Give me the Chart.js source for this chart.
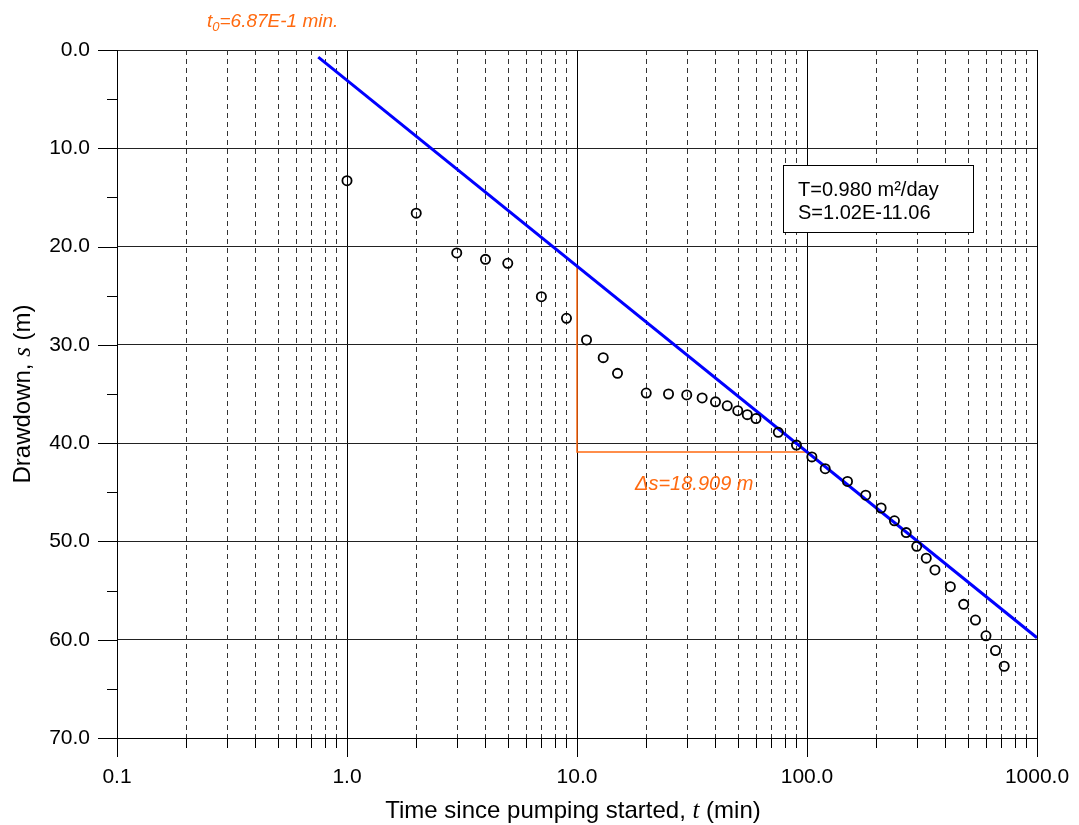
<!DOCTYPE html>
<html>
<head>
<meta charset="utf-8">
<title>Drawdown vs time</title>
<script src="https://cdn.jsdelivr.net/npm/chart.js@4.4.0/dist/chart.umd.min.js"></script>
<style>
  html, body { margin: 0; padding: 0; background: #fff; }
  #wrap { width: 1079px; height: 825px; }
</style>
</head>
<body>
<div id="wrap"><canvas id="chart" width="1079" height="825"></canvas></div>
<script>
// observed drawdown
const timeMin = [1, 2, 3, 4, 5, 7, 9, 11, 13, 15, 20, 25, 30, 35, 40, 45, 50, 55, 60, 75, 90,
  105, 120, 150, 180, 210, 240, 270, 300, 330, 360, 420, 480, 540, 600, 660, 720];
const drawdown = [13.3, 16.6, 20.65, 21.3, 21.7, 25.1, 27.3, 29.5, 31.3, 32.9, 34.9, 35.0, 35.1, 35.4, 35.8, 36.2, 36.7, 37.1, 37.5, 38.9, 40.2,
  41.4, 42.6, 43.9, 45.3, 46.6, 47.9, 49.1, 50.5, 51.7, 52.9, 54.6, 56.4, 58.0, 59.6, 61.1, 62.7];

// straight line fit (Cooper-Jacob)
const fitT = [0.75, 1000];
const fitS = [0.72, 59.8];

// delta s construction
const deltaT = [10, 10, 100];
const deltaS = [22.0, 40.9, 40.9];

// axis ticks
const xDecades = [0.1, 1, 10, 100, 1000];
const xMantissas = [1, 2, 3, 4, 5, 6, 7, 8, 9];
const yMin = 0, yMax = 70, yStep = 5;

const t0Label = '=6.87E-1 min.';
const deltaLabel = '\u0394s=18.909 m';
const infoLines = ['T=0.980 m\u00B2/day', 'S=1.02E-11.06'];

const ORANGE = '#ff6a10';
const SANS = '"Liberation Sans", Arial, sans-serif';
const SERIF = '"Liberation Serif", "Times New Roman", serif';

const isDecade = v => Math.abs(Math.log10(v) - Math.round(Math.log10(v))) < 1e-9;

const xTickValues = [];
xDecades.slice(0, -1).forEach(d => xMantissas.forEach(m => xTickValues.push(+(d * m).toPrecision(3))));
xTickValues.push(xDecades[xDecades.length - 1]);

function mixedText(ctx, parts, x, y, align) {
  let total = 0;
  parts.forEach(p => { ctx.font = p.font; p.w = ctx.measureText(p.text).width; total += p.w; });
  let cx = align === 'center' ? x - total / 2 : x;
  ctx.textAlign = 'left';
  parts.forEach(p => {
    ctx.font = p.font;
    ctx.fillText(p.text, cx, y + (p.dy || 0));
    cx += p.w;
  });
}

const extras = {
  id: 'extras',
  beforeDatasetsDraw(chart) {
    const { ctx, chartArea: a, scales: { x } } = chart;
    ctx.save();
    ctx.strokeStyle = '#333';
    ctx.lineWidth = 1;
    ctx.setLineDash([5, 4]);
    xTickValues.forEach(v => {
      if (isDecade(v)) return;
      const px = Math.round(x.getPixelForValue(v)) + 0.5;
      ctx.beginPath();
      ctx.moveTo(px, a.top);
      ctx.lineTo(px, a.bottom);
      ctx.stroke();
    });
    ctx.restore();
  },
  afterDraw(chart) {
    const { ctx, chartArea: a, scales: { x, y } } = chart;
    ctx.save();
    // tick marks
    ctx.strokeStyle = '#000';
    ctx.lineWidth = 1;
    xTickValues.forEach(v => {
      const px = Math.round(x.getPixelForValue(v)) + 0.5;
      const len = isDecade(v) ? 19 : 10;
      ctx.beginPath();
      ctx.moveTo(px, a.bottom);
      ctx.lineTo(px, a.bottom + len);
      ctx.stroke();
    });
    for (let v = yMin; v <= yMax; v += yStep) {
      const py = Math.round(y.getPixelForValue(v)) + 0.5;
      const len = v % 10 === 0 ? 19 : 10;
      ctx.beginPath();
      ctx.moveTo(a.left - len, py);
      ctx.lineTo(a.left, py);
      ctx.stroke();
    }

    // axis titles
    ctx.fillStyle = '#000';
    ctx.textBaseline = 'alphabetic';
    mixedText(ctx, [
      { text: 'Time since pumping started, ', font: '24px ' + SANS },
      { text: 't', font: 'italic 25px ' + SERIF },
      { text: ' (min)', font: '24px ' + SANS }
    ], (a.left + a.right) / 2 - 4, 818, 'center');

    ctx.save();
    ctx.translate(30, (a.top + a.bottom) / 2);
    ctx.rotate(-Math.PI / 2);
    mixedText(ctx, [
      { text: 'Drawdown, ', font: '24px ' + SANS },
      { text: 's', font: 'italic 25px ' + SERIF },
      { text: ' (m)', font: '24px ' + SANS }
    ], 0, 0, 'center');
    ctx.restore();

    // t0 label
    ctx.fillStyle = ORANGE;
    mixedText(ctx, [
      { text: 't', font: 'italic 19px ' + SANS },
      { text: '0', font: 'italic 13px ' + SANS, dy: 4 },
      { text: t0Label, font: 'italic 19px ' + SANS }
    ], 207, 27, 'left');

    // delta s label
    ctx.font = 'italic 20px ' + SANS;
    ctx.textAlign = 'left';
    ctx.fillText(deltaLabel, 635, 490);

    // info box
    ctx.fillStyle = '#fff';
    ctx.fillRect(783.5, 165.5, 190, 67);
    ctx.strokeStyle = '#000';
    ctx.lineWidth = 1;
    ctx.strokeRect(783.5, 165.5, 190, 67);
    ctx.fillStyle = '#000';
    ctx.font = '20px ' + SANS;
    ctx.fillText(infoLines[0], 798, 196);
    ctx.fillText(infoLines[1], 798, 219);
    ctx.restore();
  }
};

new Chart(document.getElementById('chart'), {
  type: 'scatter',
  data: {
    datasets: [
      {
        label: 'Observed',
        data: timeMin.map((t, i) => ({ x: t, y: drawdown[i] })),
        pointStyle: 'circle',
        pointRadius: 4.6,
        pointBorderWidth: 1.8,
        pointBorderColor: '#000',
        pointBackgroundColor: 'rgba(0,0,0,0)',
        order: 1
      },
      {
        label: 'Fit',
        data: fitT.map((t, i) => ({ x: t, y: fitS[i] })),
        showLine: true,
        borderColor: '#0000ff',
        borderWidth: 3,
        pointRadius: 0,
        order: 2
      },
      {
        label: 'Delta',
        data: deltaT.map((t, i) => ({ x: t, y: deltaS[i] })),
        showLine: true,
        borderColor: ORANGE,
        borderWidth: 1.5,
        pointRadius: 0,
        order: 3
      }
    ]
  },
  options: {
    responsive: false,
    animation: false,
    devicePixelRatio: 1,
    layout: { padding: { top: 50, right: 42, left: 0, bottom: 0 } },
    plugins: {
      legend: { display: false },
      tooltip: { enabled: false }
    },
    scales: {
      x: {
        type: 'logarithmic',
        min: 0.1,
        max: 1000,
        afterBuildTicks: scale => {
          scale.ticks = xTickValues.map(v => ({ value: v, major: isDecade(v) }));
        },
        afterFit: scale => {
          scale.height = 87;
          scale.paddingLeft = 0;
          scale.paddingRight = 0;
        },
        grid: {
          drawTicks: false,
          lineWidth: 1,
          color: c => (c.tick && isDecade(c.tick.value)) ? '#000' : 'rgba(0,0,0,0)'
        },
        border: { display: true, color: '#000', width: 1 },
        ticks: {
          autoSkip: false,
          maxRotation: 0,
          padding: 27,
          color: '#000',
          font: { family: SANS, size: 21 },
          callback: v => isDecade(v) ? Number(v).toFixed(1) : ''
        }
      },
      y: {
        type: 'linear',
        reverse: true,
        min: yMin,
        max: yMax,
        afterFit: scale => {
          scale.width = 117;
          scale.paddingTop = 0;
          scale.paddingBottom = 0;
        },
        grid: {
          drawTicks: false,
          lineWidth: 1,
          color: c => (c.tick && c.tick.value % 10 === 0) ? '#222' : 'rgba(0,0,0,0)'
        },
        border: { display: true, color: '#000', width: 1 },
        ticks: {
          stepSize: yStep,
          padding: 27,
          color: '#000',
          font: { family: SANS, size: 21 },
          callback: v => v % 10 === 0 ? Number(v).toFixed(1) : ''
        }
      }
    }
  },
  plugins: [extras]
});
</script>
</body>
</html>
